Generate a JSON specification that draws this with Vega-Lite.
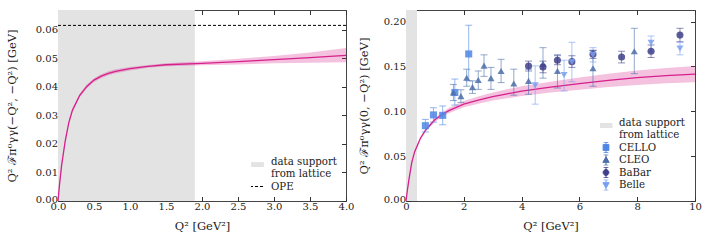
{
  "$schema": "https://vega.github.io/schema/vega-lite/v6.json",
  "padding": {"left": 5, "top": 9, "right": 4, "bottom": 2},
  "config": {
    "font": "DejaVu Serif",
    "view": {"stroke": "#444", "strokeWidth": 1},
    "axis": {"grid": false, "domain": false, "tickSize": -4.5, "tickColor": "#333", "tickWidth": 1, "labelFont": "DejaVu Serif", "labelFontSize": 10, "labelColor": "#222", "titleFont": "DejaVu Serif", "titleFontSize": 11.5, "titleFontWeight": "normal", "titleColor": "#222", "labelFlush": false, "labelPadding": 3, "titlePadding": 5},
    "axisX": {"titlePadding": 9, "labelPadding": 5},
    "axisY": {"labelPadding": 5},
    "legend": {"labelFont": "DejaVu Serif", "labelFontSize": 10.2, "labelColor": "#222", "title": null, "orient": "bottom-right", "padding": 0, "rowPadding": 1.5, "labelOffset": 7, "clipHeight": 11},
    "concat": {"spacing": 2}
  },
  "datasets": {
    "lattice1": [{"x0": 0, "x1": 1.9, "label": "data support"}],
    "ope": [{"y": 0.0616, "label": "OPE"}],
    "lattice2": [{"x0": 0, "x1": 0.38, "label": "data support"}],
    "leftCurve": [
      {"x": 0, "y": 0, "lo": 0, "hi": 0},
      {"x": 0.02, "y": 0.0055, "lo": 0.0053, "hi": 0.0057},
      {"x": 0.05, "y": 0.0125, "lo": 0.0122, "hi": 0.0128},
      {"x": 0.1, "y": 0.021, "lo": 0.0206, "hi": 0.0214},
      {"x": 0.15, "y": 0.0275, "lo": 0.027, "hi": 0.028},
      {"x": 0.2, "y": 0.0318, "lo": 0.0313, "hi": 0.0323},
      {"x": 0.3, "y": 0.037, "lo": 0.0364, "hi": 0.0376},
      {"x": 0.4, "y": 0.0402, "lo": 0.0395, "hi": 0.0409},
      {"x": 0.5, "y": 0.0424, "lo": 0.0417, "hi": 0.0431},
      {"x": 0.6, "y": 0.0438, "lo": 0.0431, "hi": 0.0445},
      {"x": 0.7, "y": 0.0448, "lo": 0.0441, "hi": 0.0455},
      {"x": 0.8, "y": 0.0455, "lo": 0.0448, "hi": 0.0462},
      {"x": 1.0, "y": 0.0464, "lo": 0.0458, "hi": 0.047},
      {"x": 1.25, "y": 0.0472, "lo": 0.0467, "hi": 0.0477},
      {"x": 1.5, "y": 0.0478, "lo": 0.0473, "hi": 0.0483},
      {"x": 2.0, "y": 0.0483, "lo": 0.0476, "hi": 0.049},
      {"x": 2.5, "y": 0.0489, "lo": 0.0479, "hi": 0.0499},
      {"x": 3.0, "y": 0.0496, "lo": 0.0483, "hi": 0.0509},
      {"x": 3.5, "y": 0.0503, "lo": 0.0485, "hi": 0.0521},
      {"x": 4.0, "y": 0.0511, "lo": 0.0487, "hi": 0.0537}
    ],
    "rightCurve": [
      {"x": 0, "y": 0, "lo": 0, "hi": 0},
      {"x": 0.05, "y": 0.0125, "lo": 0.0122, "hi": 0.0128},
      {"x": 0.1, "y": 0.0235, "lo": 0.023, "hi": 0.024},
      {"x": 0.2, "y": 0.043, "lo": 0.0422, "hi": 0.0438},
      {"x": 0.3, "y": 0.055, "lo": 0.054, "hi": 0.056},
      {"x": 0.5, "y": 0.07, "lo": 0.0686, "hi": 0.0714},
      {"x": 0.7, "y": 0.08, "lo": 0.0782, "hi": 0.0818},
      {"x": 1.0, "y": 0.0905, "lo": 0.0882, "hi": 0.0928},
      {"x": 1.25, "y": 0.0965, "lo": 0.0939, "hi": 0.0991},
      {"x": 1.5, "y": 0.101, "lo": 0.098, "hi": 0.104},
      {"x": 2.0, "y": 0.108, "lo": 0.1045, "hi": 0.1115},
      {"x": 2.5, "y": 0.1125, "lo": 0.1085, "hi": 0.1165},
      {"x": 3.0, "y": 0.1165, "lo": 0.112, "hi": 0.121},
      {"x": 3.5, "y": 0.1195, "lo": 0.1145, "hi": 0.1245},
      {"x": 4.0, "y": 0.1225, "lo": 0.117, "hi": 0.128},
      {"x": 5.0, "y": 0.127, "lo": 0.121, "hi": 0.133},
      {"x": 6.0, "y": 0.131, "lo": 0.1242, "hi": 0.1378},
      {"x": 7.0, "y": 0.1345, "lo": 0.1271, "hi": 0.1419},
      {"x": 8.0, "y": 0.1375, "lo": 0.1295, "hi": 0.1455},
      {"x": 9.0, "y": 0.1398, "lo": 0.1313, "hi": 0.1483},
      {"x": 10.0, "y": 0.1415, "lo": 0.1325, "hi": 0.1505}
    ],
    "exp": [
      {"exp": "CELLO", "x": 0.67, "y": 0.084, "lo": 0.077, "hi": 0.091},
      {"exp": "CELLO", "x": 0.95, "y": 0.096, "lo": 0.088, "hi": 0.104},
      {"exp": "CELLO", "x": 1.27, "y": 0.0955, "lo": 0.085, "hi": 0.106},
      {"exp": "CELLO", "x": 1.69, "y": 0.121, "lo": 0.107, "hi": 0.136},
      {"exp": "CELLO", "x": 2.17, "y": 0.164, "lo": 0.134, "hi": 0.196},
      {"exp": "CLEO", "x": 1.64, "y": 0.121, "lo": 0.112, "hi": 0.13},
      {"exp": "CLEO", "x": 1.9, "y": 0.117, "lo": 0.11, "hi": 0.124},
      {"exp": "CLEO", "x": 2.1, "y": 0.1375, "lo": 0.128, "hi": 0.147},
      {"exp": "CLEO", "x": 2.3, "y": 0.127, "lo": 0.12, "hi": 0.134},
      {"exp": "CLEO", "x": 2.5, "y": 0.135, "lo": 0.1245, "hi": 0.145},
      {"exp": "CLEO", "x": 2.7, "y": 0.151, "lo": 0.139, "hi": 0.163},
      {"exp": "CLEO", "x": 2.94, "y": 0.137, "lo": 0.1245, "hi": 0.149},
      {"exp": "CLEO", "x": 3.29, "y": 0.145, "lo": 0.132, "hi": 0.158},
      {"exp": "CLEO", "x": 3.73, "y": 0.131, "lo": 0.118, "hi": 0.147},
      {"exp": "CLEO", "x": 4.24, "y": 0.134, "lo": 0.119, "hi": 0.147},
      {"exp": "CLEO", "x": 4.74, "y": 0.153, "lo": 0.137, "hi": 0.171},
      {"exp": "CLEO", "x": 5.24, "y": 0.145, "lo": 0.126, "hi": 0.162},
      {"exp": "CLEO", "x": 6.47, "y": 0.148, "lo": 0.128, "hi": 0.168},
      {"exp": "CLEO", "x": 7.9, "y": 0.167, "lo": 0.142, "hi": 0.1926},
      {"exp": "BaBar", "x": 4.24, "y": 0.1505, "lo": 0.145, "hi": 0.156},
      {"exp": "BaBar", "x": 4.74, "y": 0.1494, "lo": 0.143, "hi": 0.156},
      {"exp": "BaBar", "x": 5.24, "y": 0.157, "lo": 0.152, "hi": 0.163},
      {"exp": "BaBar", "x": 5.74, "y": 0.1554, "lo": 0.149, "hi": 0.162},
      {"exp": "BaBar", "x": 6.47, "y": 0.1636, "lo": 0.159, "hi": 0.168},
      {"exp": "BaBar", "x": 7.46, "y": 0.1606, "lo": 0.154, "hi": 0.167},
      {"exp": "BaBar", "x": 8.48, "y": 0.167, "lo": 0.16, "hi": 0.174},
      {"exp": "BaBar", "x": 9.48, "y": 0.185, "lo": 0.1777, "hi": 0.1926},
      {"exp": "Belle", "x": 4.47, "y": 0.129, "lo": 0.108, "hi": 0.1507},
      {"exp": "Belle", "x": 5.47, "y": 0.1405, "lo": 0.1227, "hi": 0.157},
      {"exp": "Belle", "x": 5.74, "y": 0.155, "lo": 0.133, "hi": 0.177},
      {"exp": "Belle", "x": 6.47, "y": 0.163, "lo": 0.155, "hi": 0.171},
      {"exp": "Belle", "x": 8.48, "y": 0.1765, "lo": 0.167, "hi": 0.184},
      {"exp": "Belle", "x": 9.48, "y": 0.17, "lo": 0.163, "hi": 0.1766}
    ]
  },
  "resolve": {"scale": {"color": "independent", "x": "independent", "y": "independent"}, "legend": {"color": "independent"}},
  "hconcat": [
    {
      "width": 288,
      "height": 191,
      "resolve": {"axis": {"x": "independent", "y": "independent"}},
      "layer": [
        {
          "data": {"name": "lattice1"},
          "mark": {"type": "rect"},
          "encoding": {
            "x": {"field": "x0", "type": "quantitative", "scale": {"domain": [0, 4], "nice": false, "zero": false}, "axis": null},
            "x2": {"field": "x1"},
            "color": {
              "field": "label", "type": "nominal",
              "scale": {"domain": ["data support", "from lattice", "OPE"], "range": ["#e3e3e3", "#ffffff", "#000000"]},
              "legend": {
                "offset": 9,
                "encode": {"symbols": {"update": {
                  "shape": {"signal": "datum.value == 'OPE' ? 'M-1,0H1' : datum.value == 'data support' ? 'M-1,0.17H1V1.83H-1Z' : 'M0,0H0.01'"},
                  "size": {"signal": "datum.value == 'OPE' ? 225 : 144"},
                  "fill": {"signal": "datum.value == 'data support' ? '#e3e3e3' : 'transparent'"},
                  "stroke": {"signal": "datum.value == 'OPE' ? '#000000' : 'transparent'"},
                  "strokeDash": {"signal": "datum.value == 'OPE' ? [3, 2] : [1, 0]"},
                  "strokeWidth": {"value": 1},
                  "opacity": {"value": 1}
                }}}
              }
            }
          }
        },
        {
          "data": {"name": "leftCurve"},
          "mark": {"type": "area", "color": "#d6208c", "opacity": 0.28},
          "encoding": {
            "x": {"field": "x", "type": "quantitative", "scale": {"domain": [0, 4], "nice": false}, "axis": {"orient": "bottom", "values": [0, 0.5, 1, 1.5, 2, 2.5, 3, 3.5, 4], "format": ".1f", "title": "Q² [GeV²]"}},
            "y": {"field": "lo", "type": "quantitative", "scale": {"domain": [0, 0.067], "nice": false}, "axis": {"orient": "left", "values": [0, 0.01, 0.02, 0.03, 0.04, 0.05, 0.06], "format": ".2f", "title": "Q² ℱπ⁰γγ(−Q², −Q²) [GeV]", "titlePadding": 18, "labelOffset": {"condition": {"test": "datum.value === 0", "value": -2}, "value": 0}}},
            "y2": {"field": "hi"}
          }
        },
        {
          "data": {"name": "leftCurve"},
          "mark": {"type": "line", "color": "#d6208c", "strokeWidth": 1.3},
          "encoding": {
            "x": {"field": "x", "type": "quantitative", "axis": {"orient": "top", "values": [0, 0.5, 1, 1.5, 2, 2.5, 3, 3.5, 4], "labels": false, "title": null}},
            "y": {"field": "y", "type": "quantitative", "axis": {"orient": "right", "values": [0, 0.01, 0.02, 0.03, 0.04, 0.05, 0.06], "labels": false, "title": null}}
          }
        },
        {
          "data": {"name": "ope"},
          "mark": {"type": "rule", "strokeDash": [3, 2], "strokeWidth": 1},
          "encoding": {
            "y": {"field": "y", "type": "quantitative", "axis": null},
            "color": {"field": "label", "type": "nominal"}
          }
        }
      ]
    },
    {
      "width": 289,
      "height": 191,
      "resolve": {"axis": {"x": "independent", "y": "independent"}},
      "layer": [
        {
          "data": {"name": "lattice2"},
          "mark": {"type": "rect"},
          "encoding": {
            "x": {"field": "x0", "type": "quantitative", "scale": {"domain": [0, 10], "nice": false, "zero": false}, "axis": null},
            "x2": {"field": "x1"},
            "color": {
              "field": "label", "type": "nominal",
              "scale": {"domain": ["data support", "from lattice", "CELLO", "CLEO", "BaBar", "Belle"], "range": ["#e3e3e3", "#ffffff", "#4f86e6", "#4d6ea8", "#3f3f8a", "#7a9ff0"]},
              "legend": {
                "offset": 10,
                "encode": {"symbols": {"update": {
                  "shape": {"signal": "datum.value == 'CELLO' ? 'M-0.55,-0.55H0.55V0.55H-0.55Z M0,-1V1 M-0.45,-1H0.45 M-0.45,1H0.45' : datum.value == 'CLEO' ? 'M0,-0.6L0.6,0.45H-0.6Z M0,-1V1 M-0.45,-1H0.45 M-0.45,1H0.45' : datum.value == 'BaBar' ? 'M0.55,0A0.55,0.55 0 1 1 -0.55,0A0.55,0.55 0 1 1 0.55,0Z M0,-1V1 M-0.45,-1H0.45 M-0.45,1H0.45' : datum.value == 'Belle' ? 'M0,0.6L0.6,-0.45H-0.6Z M0,-1V1 M-0.45,-1H0.45 M-0.45,1H0.45' : datum.value == 'data support' ? 'M-1,0.17H1V1.83H-1Z' : 'M0,0H0.01'"},
                  "size": {"signal": "datum.value == 'data support' || datum.value == 'from lattice' ? 144 : 110"},
                  "fill": {"signal": "datum.value == 'CELLO' ? '#4f86e6' : datum.value == 'CLEO' ? '#4d6ea8' : datum.value == 'BaBar' ? '#3f3f8a' : datum.value == 'Belle' ? '#7a9ff0' : datum.value == 'data support' ? '#e3e3e3' : 'transparent'"},
                  "stroke": {"signal": "datum.value == 'CELLO' ? '#4f86e6' : datum.value == 'CLEO' ? '#4d6ea8' : datum.value == 'BaBar' ? '#3f3f8a' : datum.value == 'Belle' ? '#7a9ff0' : 'transparent'"},
                  "strokeWidth": {"value": 1},
                  "opacity": {"value": 1}
                }}}
              }
            }
          }
        },
        {
          "data": {"name": "rightCurve"},
          "mark": {"type": "area", "color": "#d6208c", "opacity": 0.28},
          "encoding": {
            "x": {"field": "x", "type": "quantitative", "scale": {"domain": [0, 10], "nice": false}, "axis": {"orient": "bottom", "values": [0, 2, 4, 6, 8, 10], "format": "d", "title": "Q² [GeV²]"}},
            "y": {"field": "lo", "type": "quantitative", "scale": {"domain": [0, 0.213], "nice": false}, "axis": {"orient": "left", "values": [0, 0.05, 0.1, 0.15, 0.2], "format": ".2f", "title": "Q² ℱπ⁰γγ(0, −Q²) [GeV]", "titlePadding": 14, "labelOffset": {"condition": {"test": "datum.value === 0", "value": -2}, "value": 0}}},
            "y2": {"field": "hi"}
          }
        },
        {
          "data": {"name": "rightCurve"},
          "mark": {"type": "line", "color": "#d6208c", "strokeWidth": 1.3},
          "encoding": {
            "x": {"field": "x", "type": "quantitative", "axis": {"orient": "top", "values": [0, 2, 4, 6, 8, 10], "labels": false, "title": null}},
            "y": {"field": "y", "type": "quantitative", "axis": {"orient": "right", "values": [0, 0.05, 0.1, 0.15, 0.2], "labels": false, "title": null}}
          }
        },
        {
          "data": {"name": "exp"},
          "mark": {"type": "rule", "strokeWidth": 1, "opacity": 0.6},
          "encoding": {
            "x": {"field": "x", "type": "quantitative", "axis": null},
            "y": {"field": "lo", "type": "quantitative", "axis": null},
            "y2": {"field": "hi"},
            "color": {"field": "exp", "type": "nominal"}
          }
        },
        {
          "data": {"name": "exp"},
          "mark": {"type": "tick", "orient": "horizontal", "size": 7, "thickness": 1, "opacity": 0.6},
          "encoding": {
            "x": {"field": "x", "type": "quantitative", "axis": null},
            "y": {"field": "lo", "type": "quantitative", "axis": null},
            "color": {"field": "exp", "type": "nominal"}
          }
        },
        {
          "data": {"name": "exp"},
          "mark": {"type": "tick", "orient": "horizontal", "size": 7, "thickness": 1, "opacity": 0.6},
          "encoding": {
            "x": {"field": "x", "type": "quantitative", "axis": null},
            "y": {"field": "hi", "type": "quantitative", "axis": null},
            "color": {"field": "exp", "type": "nominal"}
          }
        },
        {
          "data": {"name": "exp"},
          "mark": {"type": "point", "filled": true, "opacity": 0.85, "size": 50},
          "encoding": {
            "x": {"field": "x", "type": "quantitative", "axis": null},
            "y": {"field": "y", "type": "quantitative", "axis": null},
            "color": {"field": "exp", "type": "nominal"},
            "shape": {"field": "exp", "type": "nominal", "scale": {"domain": ["CELLO", "CLEO", "BaBar", "Belle"], "range": ["square", "triangle-up", "circle", "triangle-down"]}, "legend": null}
          }
        }
      ]
    }
  ]
}
